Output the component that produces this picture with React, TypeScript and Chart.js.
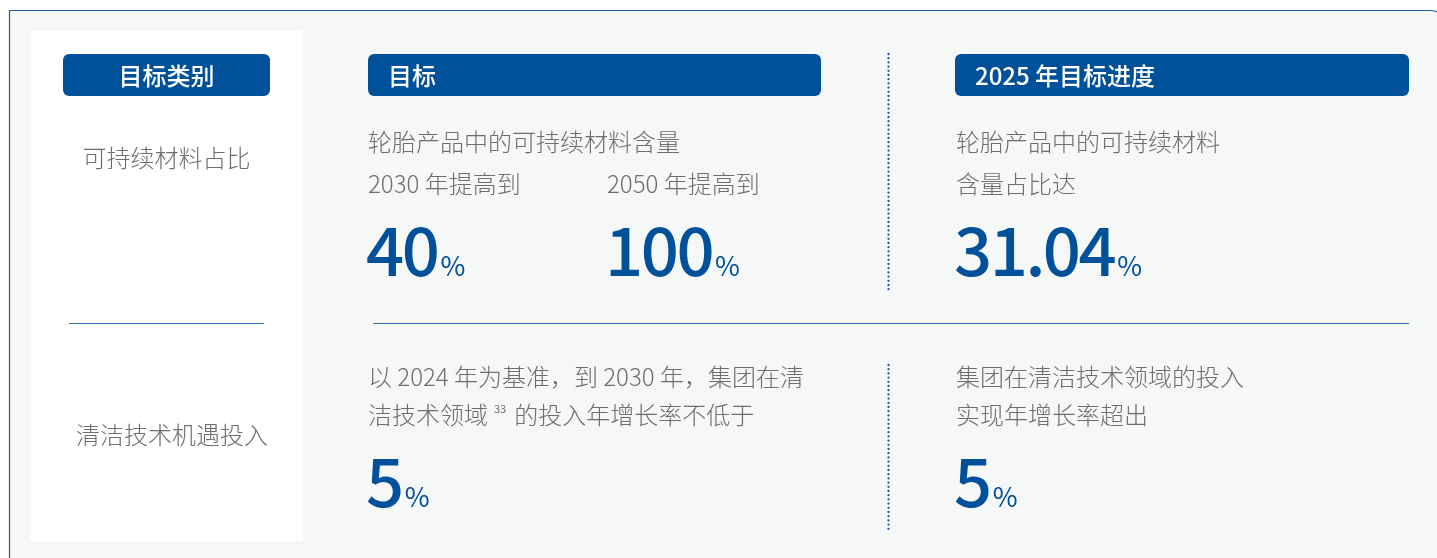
import React, { useEffect, useRef } from 'react';
import { Chart, registerables } from 'chart.js';

Chart.register(...registerables);

// ---------- data ----------
const headerLabels = ['目标类别', '目标', '2025 年目标进度'];
const categoryLabels = ['可持续材料占比', '清洁技术机遇投入'];
const materialIntro = '轮胎产品中的可持续材料含量';
const materialTargetLabels = ['2030 年提高到', '2050 年提高到'];
const materialTargetValues = [40, 100];
const materialProgressLines = ['轮胎产品中的可持续材料', '含量占比达'];
const materialProgressValue = 31.04;
const cleanTechTargetLine1 = '以 2024 年为基准，到 2030 年，集团在清';
const cleanTechTargetLine2 = ['洁技术领域', '的投入年增长率不低于'];
const footnoteMark = '33';
const cleanTechTargetValue = 5;
const cleanTechProgressLines = ['集团在清洁技术领域的投入', '实现年增长率超出'];
const cleanTechProgressValue = 5;
const unitLabel = '%';
const valueLabels = ['2030 目标', '2050 目标', '2025 进度', '清洁技术目标', '清洁技术进度'];

// ---------- style ----------
const W = 1437;
const H = 558;
const FONT = '"Noto Sans CJK SC", "Noto Sans", sans-serif';
const BLUE = '#00519a';
const GREY = '#6e6e6e';

function roundRectPath(ctx: CanvasRenderingContext2D, x: number, y: number, w: number, h: number, r: number[]) {
  ctx.beginPath();
  (ctx as any).roundRect(x, y, w, h, r);
}

const infographicPlugin = {
  id: 'infographic',
  beforeDraw(chart: any) {
    const ctx: CanvasRenderingContext2D = chart.ctx;
    const vals: number[] = chart.data.datasets[0].data;
    ctx.save();
    ctx.fillStyle = '#ffffff';
    ctx.fillRect(0, 0, W, H);

    // outer box
    roundRectPath(ctx, 9.5, 10.5, 1440, 620, [0, 20, 0, 0]);
    ctx.fillStyle = '#f6f7f7';
    ctx.fill();
    ctx.strokeStyle = '#235ca5';
    ctx.lineWidth = 1.2;
    ctx.stroke();

    // white category panel
    ctx.fillStyle = '#ffffff';
    ctx.fillRect(30, 31, 273, 510);

    // header pills
    const pills = [
      [63, 54, 207, 42],
      [368, 54, 453, 42],
      [955, 54, 454, 42],
    ];
    ctx.fillStyle = BLUE;
    pills.forEach((p) => {
      roundRectPath(ctx, p[0], p[1], p[2], p[3], [6]);
      ctx.fill();
    });
    ctx.fillStyle = '#ffffff';
    ctx.font = `500 24px ${FONT}`;
    ctx.textBaseline = 'alphabetic';
    ctx.textAlign = 'center';
    ctx.fillText(headerLabels[0], 166.5, 85);
    ctx.textAlign = 'left';
    ctx.fillText(headerLabels[1], 388, 85);
    ctx.fillText(headerLabels[2], 975, 85);

    // dividers
    ctx.strokeStyle = '#2f6cb5';
    ctx.lineWidth = 1;
    ctx.beginPath();
    ctx.moveTo(69, 323.5);
    ctx.lineTo(264, 323.5);
    ctx.moveTo(373, 323.5);
    ctx.lineTo(1409, 323.5);
    ctx.stroke();

    // dotted verticals
    ctx.fillStyle = '#1a56a3';
    const dots = (y0: number, y1: number) => {
      for (let y = y0; y <= y1; y += 4.2) {
        ctx.beginPath();
        ctx.arc(888.5, y, 1.15, 0, Math.PI * 2);
        ctx.fill();
      }
    };
    dots(54, 290);
    dots(365, 532);

    // grey body text
    ctx.fillStyle = GREY;
    ctx.font = `300 24px ${FONT}`;
    ctx.textAlign = 'center';
    ctx.fillText(categoryLabels[0], 166.5, 167);
    ctx.fillText(categoryLabels[1], 172, 444);
    ctx.textAlign = 'left';
    ctx.fillText(materialIntro, 368, 151);
    ctx.fillText(materialTargetLabels[0], 368, 193);
    ctx.fillText(materialTargetLabels[1], 607, 193);
    ctx.fillText(materialProgressLines[0], 956, 151);
    ctx.fillText(materialProgressLines[1], 956, 193);
    ctx.fillText(cleanTechTargetLine1, 368, 386);
    ctx.fillText(cleanTechTargetLine2[0], 368, 424);
    const w1 = ctx.measureText(cleanTechTargetLine2[0]).width;
    ctx.font = `400 11px ${FONT}`;
    const supX = 368 + w1 + 6;
    ctx.fillText(footnoteMark, supX, 413);
    const supW = ctx.measureText(footnoteMark).width;
    ctx.font = `300 24px ${FONT}`;
    ctx.fillText(cleanTechTargetLine2[1], supX + supW + 8, 424);
    ctx.fillText(cleanTechProgressLines[0], 956, 386);
    ctx.fillText(cleanTechProgressLines[1], 956, 424);

    // big values
    const bigValue = (v: number, x: number, y: number) => {
      ctx.fillStyle = BLUE;
      ctx.font = `500 67px ${FONT}`;
      (ctx as any).letterSpacing = '-2.5px';
      const s = String(v);
      ctx.fillText(s, x, y);
      const w = ctx.measureText(s).width;
      (ctx as any).letterSpacing = '0px';
      ctx.font = `400 27px ${FONT}`;
      ctx.fillText(unitLabel, x + w + 3, y);
    };
    bigValue(vals[0], 366, 276);
    bigValue(vals[1], 605, 276);
    bigValue(vals[2], 954, 276);
    bigValue(vals[3], 366, 507);
    bigValue(vals[4], 954, 507);

    ctx.restore();
  },
};

export default function App() {
  const canvasRef = useRef<HTMLCanvasElement | null>(null);

  useEffect(() => {
    document.body.style.margin = '0';
    document.body.style.overflow = 'hidden';
    const canvas = canvasRef.current;
    if (!canvas) return;
    let chart: Chart | null = null;
    const build = () => {
      chart = new Chart(canvas, {
        type: 'bar',
        data: {
          labels: valueLabels,
          datasets: [
            {
              label: '目标与进度',
              data: [
                materialTargetValues[0],
                materialTargetValues[1],
                materialProgressValue,
                cleanTechTargetValue,
                cleanTechProgressValue,
              ],
              backgroundColor: 'rgba(0,0,0,0)',
              borderWidth: 0,
            },
          ],
        },
        options: {
          responsive: false,
          animation: false,
          devicePixelRatio: 1,
          layout: { padding: 0 },
          events: [],
          scales: { x: { display: false }, y: { display: false } },
          plugins: { legend: { display: false }, tooltip: { enabled: false } },
        },
        plugins: [infographicPlugin],
      });
    };
    let cancelled = false;
    const fontsReady = (document as any).fonts
      ? Promise.all([
          (document as any).fonts.load(`500 67px ${FONT}`, '0123'),
          (document as any).fonts.load(`300 24px ${FONT}`, '目标'),
          (document as any).fonts.load(`500 24px ${FONT}`, '目标'),
        ]).catch(() => null)
      : Promise.resolve(null);
    fontsReady.then(() => {
      if (!cancelled) build();
    });
    return () => {
      cancelled = true;
      if (chart) chart.destroy();
    };
  }, []);

  return (
    <div style={{ position: 'fixed', left: 0, top: 0, width: W, height: H, background: '#ffffff' }}>
      <canvas ref={canvasRef} width={W} height={H} style={{ display: 'block', width: W, height: H }} />
    </div>
  );
}
